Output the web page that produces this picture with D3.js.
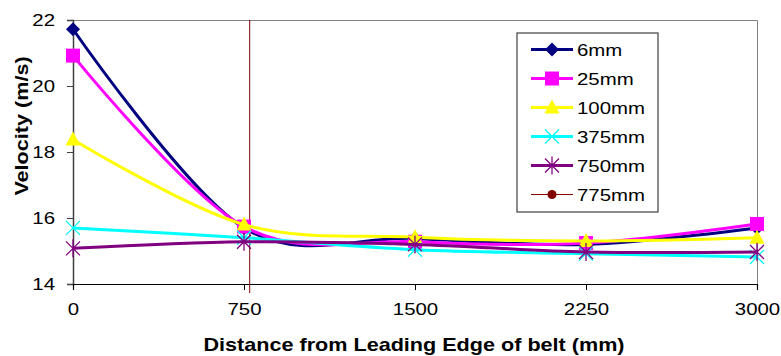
<!DOCTYPE html>
<html>
<head>
<meta charset="utf-8">
<script src="https://cdn.jsdelivr.net/npm/d3@7"></script>
<style>
  body { margin: 0; background: #fff; }
  svg { font-family: "Liberation Sans", Arial, sans-serif; }
</style>
</head>
<body>
<script>
// data
const distances = [0, 750, 1500, 2250, 3000]
const seriesNames = ["6mm", "25mm", "100mm", "375mm", "750mm", "775mm"]
const v6 = [21.72, 15.7, 15.38, 15.2, 15.7]
const v25 = [20.92, 15.74, 15.28, 15.24, 15.82]
const v100 = [18.38, 15.8, 15.42, 15.3, 15.4]
const v375 = [15.7, 15.4, 15.04, 14.92, 14.82]
const v750 = [15.08, 15.28, 15.2, 14.97, 14.97]
// the 775mm series shows only as a vertical line near x = 775
const x775 = 775
const yTicks = [14, 16, 18, 20, 22]

const svgWidth = 781, svgHeight = 356
const margin = {top: 20, right: 24, bottom: 72, left: 73}
const gWidth = svgWidth - margin.left - margin.right
const gHeight = svgHeight - margin.top - margin.bottom

const colors = ["#000080", "#ff00ff", "#ffff00", "#00ffff", "#800080", "#800000"]
const markers = ["diamond", "square", "triangle", "cross", "star", "circle"]
const allValues = [v6, v25, v100, v375, v750]

// text in the original is stretched sideways
const stretch = 1.2

var svg = d3.select("body").append("svg")
  .attr("width", svgWidth)
  .attr("height", svgHeight)

var g = svg.append("g")
  .attr("transform", "translate(" + margin.left + "," + margin.top + ")")

var x = d3.scaleLinear().domain([0, 3000]).range([0, gWidth])
var y = d3.scaleLinear().domain([14, 22]).range([gHeight, 0])

// plot border (top + right)
g.append("path")
  .attr("d", "M0,0.5H" + (gWidth + 0.5) + "V" + gHeight)
  .attr("fill", "none")
  .attr("stroke", "#808080")
  .attr("stroke-width", 1)

// axes
var yAxis = d3.axisLeft(y).tickValues(yTicks).tickSize(6)
var xAxis = d3.axisBottom(x).tickValues(distances).tickFormat(d3.format("d")).tickSize(6)

var gy = g.append("g").call(yAxis)
gy.select(".domain").attr("stroke", "#404040").attr("stroke-width", 1.5)
gy.selectAll(".tick line").attr("stroke", "#404040")
gy.selectAll("text")
  .attr("font-size", 17).attr("fill", "#000")
  .attr("font-family", "Liberation Sans, Arial, sans-serif")
  .attr("x", -18 / stretch).attr("dy", "0.35em")
  .attr("transform", "scale(" + stretch + ",1)")

var gx = g.append("g").attr("transform", "translate(0," + gHeight + ")").call(xAxis)
gx.select(".domain").attr("stroke", "#000").attr("stroke-width", 1.2)
gx.selectAll(".tick line").attr("stroke", "#000")
gx.selectAll("text")
  .attr("font-size", 17).attr("fill", "#000")
  .attr("font-family", "Liberation Sans, Arial, sans-serif")
  .attr("y", 25).attr("dy", "0.35em")
  .attr("transform", "scale(" + stretch + ",1)")

// axis titles
svg.append("text")
  .attr("transform", "translate(414,351) scale(" + stretch + ",1)")
  .attr("text-anchor", "middle")
  .attr("font-size", 18).attr("font-weight", "bold")
  .text("Distance from Leading Edge of belt (mm)")

svg.append("text")
  .attr("transform", "translate(28,126) rotate(-90) scale(" + stretch + ",1)")
  .attr("text-anchor", "middle")
  .attr("font-size", 18).attr("font-weight", "bold")
  .text("Velocity (m/s)")

// marker drawing
function drawMarker(sel, type, color) {
  if (type === "diamond") {
    sel.append("path").attr("d", "M0,-7L7,0L0,7L-7,0Z").attr("fill", color)
  } else if (type === "square") {
    sel.append("rect").attr("x", -7).attr("y", -7).attr("width", 14).attr("height", 14).attr("fill", color)
  } else if (type === "triangle") {
    sel.append("path").attr("d", "M0,-8L7.5,6L-7.5,6Z").attr("fill", color)
  } else if (type === "cross") {
    sel.append("path").attr("d", "M-7,-7L7,7M7,-7L-7,7").attr("stroke", color).attr("stroke-width", 1.3)
  } else if (type === "star") {
    sel.append("path").attr("d", "M-7,-7L7,7M7,-7L-7,7M0,-9V9").attr("stroke", color).attr("stroke-width", 1.3)
  } else if (type === "circle") {
    sel.append("circle").attr("r", 4.5).attr("fill", color)
  }
}

var line = d3.line()
  .x(function(d, i) { return x(distances[i]) })
  .y(function(d) { return y(d) })
  .curve(d3.curveCardinal.tension(0))

var plot = g.append("g")

// 775mm vertical line
plot.append("line")
  .attr("x1", x(x775)).attr("x2", x(x775))
  .attr("y1", y(22)).attr("y2", y(14) + 9)
  .attr("stroke", colors[5]).attr("stroke-width", 1)

allValues.forEach(function(vals, s) {
  plot.append("path")
    .datum(vals)
    .attr("d", line)
    .attr("fill", "none")
    .attr("stroke", colors[s])
    .attr("stroke-width", 3)
  vals.forEach(function(v, i) {
    var m = plot.append("g").attr("transform", "translate(" + x(distances[i]) + "," + y(v) + ")")
    drawMarker(m, markers[s], colors[s])
  })
})

// legend
var legend = svg.append("g").attr("transform", "translate(517,33)")
legend.append("rect")
  .attr("x", 0).attr("y", 0).attr("width", 141).attr("height", 179)
  .attr("fill", "#fff").attr("stroke", "#404040").attr("stroke-width", 1.2)

seriesNames.forEach(function(name, i) {
  var row = legend.append("g").attr("transform", "translate(0," + (16.5 + i * 29) + ")")
  row.append("line")
    .attr("x1", 14).attr("x2", 56).attr("y1", 0).attr("y2", 0)
    .attr("stroke", colors[i]).attr("stroke-width", i === 5 ? 1 : 3)
  var m = row.append("g").attr("transform", "translate(35,0)")
  drawMarker(m, markers[i], colors[i])
  row.append("text")
    .attr("transform", "translate(60,6) scale(" + stretch + ",1)")
    .attr("font-size", 17)
    .text(name)
})
</script>
</body>
</html>
